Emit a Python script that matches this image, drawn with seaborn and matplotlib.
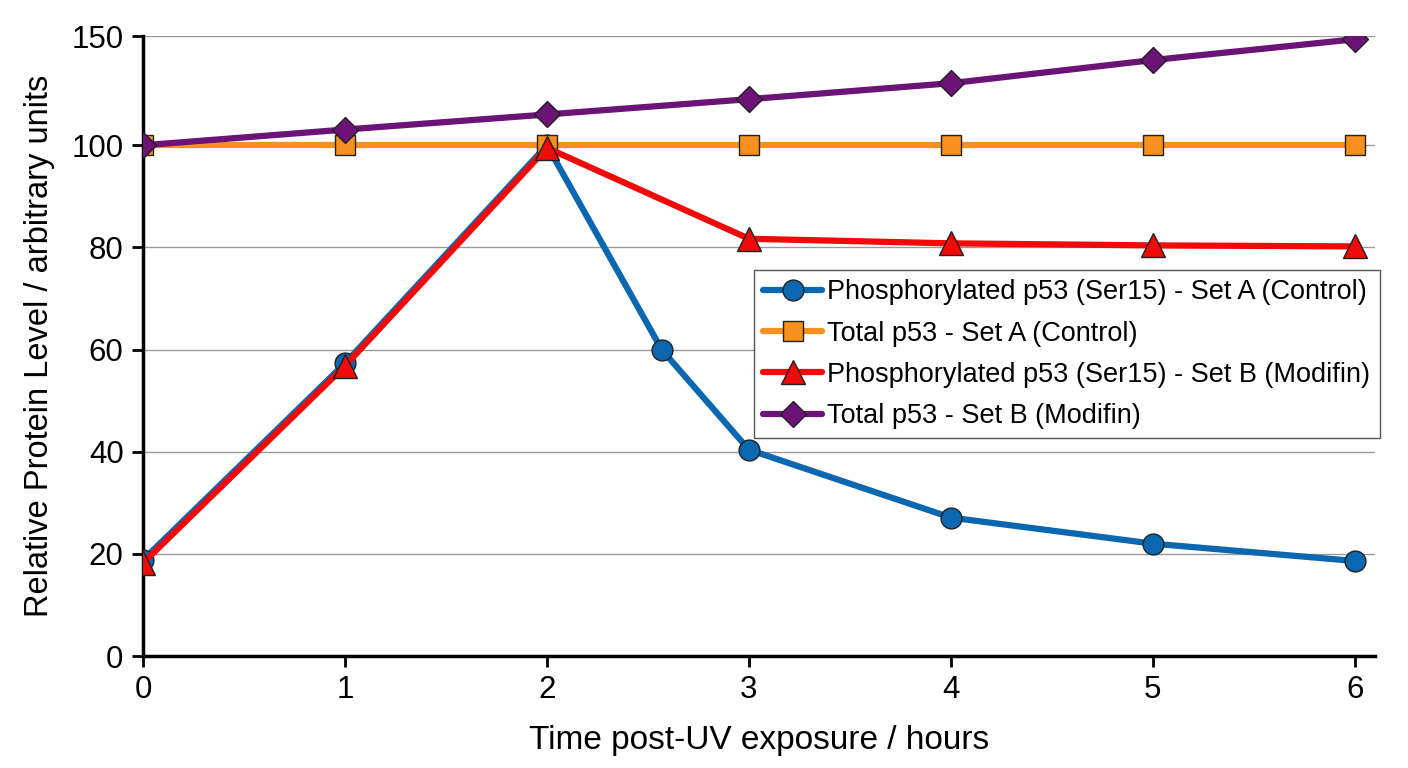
import numpy as np
import pandas as pd
import matplotlib
matplotlib.use("Agg")
import matplotlib.pyplot as plt
import seaborn as sns

# --- data ---
time_a = [0, 1, 2, 2.57, 3, 4, 5, 6]
phos_a = [18.8, 57.3, 100, 59.9, 40.4, 27.1, 22.0, 18.6]

time = [0, 1, 2, 3, 4, 5, 6]
total_a = [100, 100, 100, 100, 100, 100, 100]
phos_b = [18.2, 56.8, 99.5, 81.7, 80.8, 80.4, 80.2]
total_b = [100, 107.2, 114.1, 121.1, 128.4, 139.0, 148.5]

y_ticks = [0, 20, 40, 60, 80, 100, 150]
x_ticks = [0, 1, 2, 3, 4, 5, 6]

labels = [
    "Phosphorylated p53 (Ser15) - Set A (Control)",
    "Total p53 - Set A (Control)",
    "Phosphorylated p53 (Ser15) - Set B (Modifin)",
    "Total p53 - Set B (Modifin)",
]

sns.set_theme(style="white")
plt.rcParams['font.family'] = ['Liberation Sans', 'DejaVu Sans']
plt.rcParams['text.color'] = 'black'
plt.rcParams['axes.labelcolor'] = 'black'

# 0-100 linear, 100-150 squeezed (the axis above 100 is compressed)
k = 0.428


def fwd(y):
    y = np.asarray(y, dtype=float)
    return np.where(y <= 100, y, 100 + (y - 100) * k)


def inv(t):
    t = np.asarray(t, dtype=float)
    return np.where(t <= 100, t, 100 + (t - 100) / k)


fig = plt.figure(figsize=(14.08, 7.68), dpi=100)
ax = fig.add_axes([143 / 1408, 1 - 656 / 768, (1375 - 143) / 1408, (656 - 36) / 768])
ax.set_yscale('function', functions=(fwd, inv))

series = [
    (time_a, phos_a, '#0B67B0', 'o', 15, labels[0]),
    (time, total_a, '#F7901E', 's', 14, labels[1]),
    (time, phos_b, '#F00A0A', '^', 17, labels[2]),
    (time, total_b, '#6B1376', 'D', 13, labels[3]),
]
order = [1, 0, 2, 3]  # orange drawn under others
for i in order:
    xs, ys, col, mk, ms, lab = series[i]
    df = pd.DataFrame({'t': xs, 'v': ys})
    sns.lineplot(data=df, x='t', y='v', ax=ax, color=col, marker=mk, markersize=ms,
                 markeredgecolor='#222222', markeredgewidth=1.0, linewidth=4.5,
                 label=lab, zorder=3 + i, sort=False)

ax.set_xlim(0, 6.1)
ax.set_ylim(0, 150)
ax.set_yticks(y_ticks)
ax.set_yticklabels([str(v) for v in y_ticks])
ax.set_xticks(x_ticks)
ax.minorticks_off()
ax.grid(True, axis='y', color='#9a9a9a', linewidth=1.0)
ax.grid(False, axis='x')
ax.set_axisbelow(True)

for side in ['top', 'right']:
    ax.spines[side].set_visible(False)
for side in ['left', 'bottom']:
    ax.spines[side].set_color('black')
    ax.spines[side].set_linewidth(2.5)
ax.tick_params(axis='both', direction='out', length=8, width=2, colors='black',
               labelsize=22.5, left=True, bottom=True, pad=6)

ax.set_xlabel('Time post-UV exposure / hours', fontsize=24, labelpad=14)
ax.set_ylabel('Relative Protein Level / arbitrary units', fontsize=23.5, labelpad=12)

handles, labs = ax.get_legend_handles_labels()
hmap = dict(zip(labs, handles))
leg = ax.legend([hmap[l] for l in labels], labels, loc='upper left',
                bbox_to_anchor=(754 / 1408, 1 - 270 / 768), bbox_transform=fig.transFigure,
                fontsize=19.5, frameon=True, fancybox=False, framealpha=1,
                edgecolor='#555555', handlelength=2.15, handletextpad=0.2,
                borderpad=0.35, labelspacing=0.56, borderaxespad=0)
leg.get_frame().set_linewidth(1.0)

fig.savefig('out.png', dpi=100)
